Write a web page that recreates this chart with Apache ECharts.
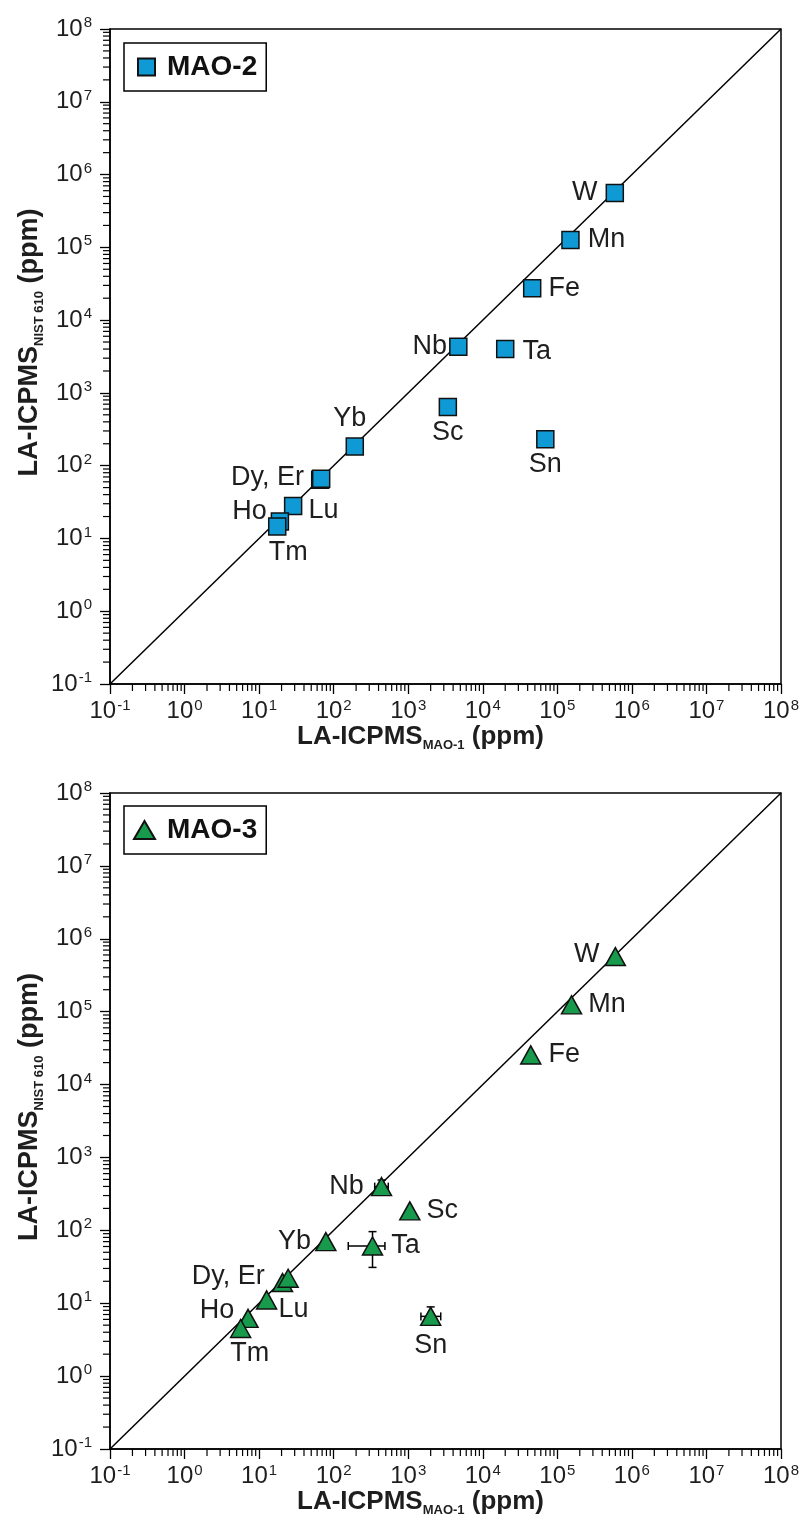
<!DOCTYPE html>
<html><head><meta charset="utf-8">
<script src="https://cdn.jsdelivr.net/npm/echarts@6/dist/echarts.min.js"></script>
<style>html,body{margin:0;padding:0;background:#fff}#c{width:806px;height:1533px}</style>
</head><body><div id="c"></div>
<script>
// ---------------- data ----------------
const elements = ['W','Mn','Fe','Nb','Ta','Sc','Sn','Yb','Dy','Er','Lu','Ho','Tm'];
const pointLabels = ['W','Mn','Fe','Nb','Ta','Sc','Sn','Yb','Dy, Er','','Lu','Ho','Tm'];
// MAO-2 (top panel): x = LA-ICPMS MAO-1, y = LA-ICPMS NIST 610 (ppm)
const mao2X = [5.9e5, 1.5e5, 4.6e4, 4.7e3, 2.0e4, 3.4e3, 6.9e4, 192, 66, 68, 28.6, 19.0, 17.5];
const mao2Y = [5.6e5, 1.26e5, 2.75e4, 4.3e3, 4.0e3, 640, 230, 183, 64, 66, 28, 17.1, 14.6];
// MAO-3 (bottom panel)
const mao3X = [6.0e5, 1.55e5, 4.4e4, 438, 332, 1050, 2000, 78.5, 20.6, 24.5, 12.6, 7.1, 5.65];
const mao3Y = [5.7e5, 1.24e5, 2.55e4, 398, 61, 185, 6.6, 70, 19.2, 22, 11.1, 6.2, 4.5];
// error bars (MAO-3)
const errElements3 = ['Nb','Ta','Sn'];
const errX3 = [[355, 540], [157, 487], [1480, 2730]];
const errY3 = [[320, 490], [31, 96], [5.0, 8.9]];
// axes
const axisMin = 0.1, axisMax = 1e8;
const tickExponents = [-1,0,1,2,3,4,5,6,7,8];
const oneToOne = [[0.1, 0.1], [1e8, 1e8]];

// ---------------- styles ----------------
const FONT = "'Liberation Sans', Arial, Helvetica, sans-serif";
const TXT = '#1e1e1e';
const BLUE = '#0f9ad6';
const GREEN = '#179a4b';

const labelPosTop = {
  W:{position:'left',distance:8}, Mn:{position:'right',distance:8}, Fe:{position:'right',distance:7},
  Nb:{position:'left',distance:2}, Ta:{position:'right',distance:8,offset:[0,2]},
  Sc:{position:'bottom',distance:3}, Sn:{position:'bottom',distance:2},
  Yb:{position:'top',distance:5,offset:[-5,0]}, Dy:{position:'left',distance:7,offset:[0,-2]},
  Lu:{position:'right',distance:6,offset:[0,5]}, Ho:{position:'left',distance:4,offset:[0,-10]},
  Tm:{position:'bottom',distance:3,offset:[11,0]}
};
const labelPosBot = {
  W:{position:'left',distance:5,offset:[0,-2]}, Mn:{position:'right',distance:6}, Fe:{position:'right',distance:7},
  Nb:{position:'left',distance:7}, Ta:{position:'right',distance:8},
  Sc:{position:'right',distance:6}, Sn:{position:'bottom',distance:6},
  Yb:{position:'left',distance:4}, Dy:{position:'left',distance:7,offset:[0,-6]},
  Lu:{position:'right',distance:1,offset:[0,10]}, Ho:{position:'left',distance:3,offset:[0,-8]},
  Tm:{position:'bottom',distance:2,offset:[9,0]}
};

// minor tick positions (2..9 x 10^k) within axis range
const minorVals = [];
for (let k = -1; k < 8; k++) for (let m = 2; m <= 9; m++) minorVals.push([m*Math.pow(10,k), m*Math.pow(10,k)]);

function expLabel(v){
  const e = Math.round(Math.log10(v));
  return '{b|10}{s|' + e + '}';
}
const tickRich = {
  b:{fontSize:24, fontFamily:FONT, color:TXT, lineHeight:27},
  s:{fontSize:15, fontFamily:FONT, color:TXT, verticalAlign:'top', lineHeight:15, padding:[0,0,0,1]}
};

function makeAxes(gi){
  const common = {
    type:'log', logBase:10, min:axisMin, max:axisMax, splitNumber:9, gridIndex:gi,
    axisLine:{show:true, onZero:false, lineStyle:{color:'#000', width:1.5}},
    axisTick:{show:true, inside:false, length:10, lineStyle:{color:'#000', width:1.3}},
    splitLine:{show:false}, minorTick:{show:false},
    nameLocation:'middle', nameMoveOverlap:false
  };
  const nameRich = (fs) => ({
    b:{fontSize:fs, fontWeight:'bold', fontFamily:FONT, color:TXT, lineHeight:fs+5},
    sub:{fontSize:13, fontWeight:'bold', fontFamily:FONT, color:TXT, verticalAlign:'bottom', lineHeight:14}
  });
  const x = Object.assign({}, common, {
    axisLabel:{formatter:expLabel, rich:tickRich, margin:14, showMinLabel:true, showMaxLabel:true},
    name:'{b|LA-ICPMS}{sub|MAO-1}{b| (ppm)}', nameGap:37,
    nameTextStyle:{padding:[0,50,0,0], rich:nameRich(26)}
  });
  const y = Object.assign({}, common, {
    axisLabel:{formatter:expLabel, rich:tickRich, margin:18, showMinLabel:true, showMaxLabel:true},
    name:'{b|LA-ICPMS}{sub|NIST 610}{b| (ppm)}', nameGap:64,
    nameTextStyle:{padding:[0,0,0,28], rich:nameRich(27)}
  });
  return {x, y};
}
const a0 = makeAxes(0), a1 = makeAxes(1);

function pointData(xs, ys, posMap){
  return elements.map((el, i) => {
    const lab = pointLabels[i];
    const p = posMap[el] || {};
    return {
      name: el, value:[xs[i], ys[i]],
      label: lab ? Object.assign({show:true, formatter: lab}, p) : {show:false}
    };
  });
}

function minorTickSeries(gi){
  return {
    type:'custom', name:'minorTicks'+gi, xAxisIndex:gi, yAxisIndex:gi, silent:true, clip:false, z:1,
    data: minorVals,
    renderItem(params, api){
      const v = api.value(0);
      const px = api.coord([v, axisMin]);
      const py = api.coord([axisMin, v]);
      const st = {stroke:'#000', lineWidth:1.2};
      return {type:'group', children:[
        {type:'line', shape:{x1:px[0], y1:px[1], x2:px[0], y2:px[1]+7}, style:st},
        {type:'line', shape:{x1:py[0], y1:py[1], x2:py[0]-7, y2:py[1]}, style:st}
      ]};
    }
  };
}

function diagSeries(gi){
  return {type:'line', name:'1:1-'+gi, xAxisIndex:gi, yAxisIndex:gi, data:oneToOne, showSymbol:false, symbol:'none',
    silent:true, z:2, lineStyle:{color:'#000', width:1.5}};
}

const errData = errElements3.map((el, i) => {
  const idx = elements.indexOf(el);
  return [mao3X[idx], mao3Y[idx], errX3[i][0], errX3[i][1], errY3[i][0], errY3[i][1]];
});

const labelBase = {fontSize:27, fontFamily:FONT, color:TXT};

const option = {
  animation:false,
  backgroundColor:'#fff',
  grid:[
    {left:110, top:29, width:671, height:655, show:true, borderColor:'#000', borderWidth:1.5, backgroundColor:'transparent'},
    {left:110, top:793, width:671, height:656, show:true, borderColor:'#000', borderWidth:1.5, backgroundColor:'transparent'}
  ],
  xAxis:[a0.x, a1.x],
  yAxis:[a0.y, a1.y],
  legend:[
    {data:[{name:'MAO-2', icon:'rect'}], left:124, top:43, padding:[10,9,10,13], itemWidth:17, itemHeight:17,
     borderColor:'#000', borderWidth:1.5, backgroundColor:'#fff', selectedMode:false,
     textStyle:{fontSize:28, fontWeight:'bold', fontFamily:FONT, color:'#111', padding:[0,0,0,7]}},
    {data:[{name:'MAO-3', icon:'triangle'}], left:124, top:806, padding:[10,9,10,9], itemWidth:21, itemHeight:18,
     borderColor:'#000', borderWidth:1.5, backgroundColor:'#fff', selectedMode:false,
     textStyle:{fontSize:28, fontWeight:'bold', fontFamily:FONT, color:'#111', padding:[0,0,0,7]}}
  ],
  series:[
    minorTickSeries(0), minorTickSeries(1),
    diagSeries(0), diagSeries(1),
    {type:'custom', name:'errors', xAxisIndex:1, yAxisIndex:1, silent:true, clip:false, z:3, data:errData,
     renderItem(params, api){
       const x = api.value(0), y = api.value(1);
       const l = api.coord([api.value(2), y]), r = api.coord([api.value(3), y]);
       const b = api.coord([x, api.value(4)]), t = api.coord([x, api.value(5)]);
       const c = 4, st = {stroke:'#000', lineWidth:1.5};
       const ln = (x1,y1,x2,y2) => ({type:'line', shape:{x1,y1,x2,y2}, style:st});
       return {type:'group', children:[
         ln(l[0],l[1],r[0],r[1]), ln(l[0],l[1]-c,l[0],l[1]+c), ln(r[0],r[1]-c,r[0],r[1]+c),
         ln(b[0],b[1],t[0],t[1]), ln(b[0]-c,b[1],b[0]+c,b[1]), ln(t[0]-c,t[1],t[0]+c,t[1])
       ]};
     }},
    {type:'scatter', name:'MAO-2', xAxisIndex:0, yAxisIndex:0, symbol:'rect', symbolSize:17, z:5,
     itemStyle:{color:BLUE, borderColor:'#111', borderWidth:1.5, opacity:1},
     label:labelBase, emphasis:{disabled:true},
     data:pointData(mao2X, mao2Y, labelPosTop)},
    {type:'scatter', name:'MAO-3', xAxisIndex:1, yAxisIndex:1, symbol:'triangle', symbolSize:[20,18], z:5,
     itemStyle:{color:GREEN, borderColor:'#111', borderWidth:1.5, opacity:1},
     label:labelBase, emphasis:{disabled:true},
     data:pointData(mao3X, mao3Y, labelPosBot)}
  ]
};

const chart = echarts.init(document.getElementById('c'), null, {renderer:'canvas'});
chart.setOption(option);
</script>
</body></html>
